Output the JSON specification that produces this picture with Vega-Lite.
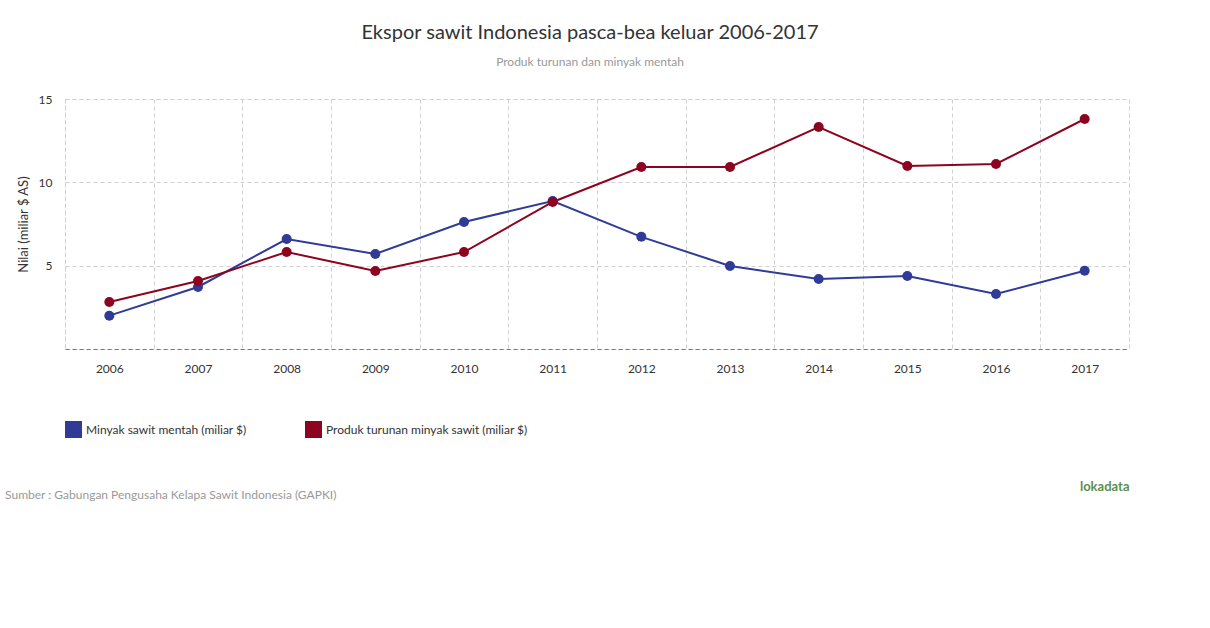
{
  "$schema": "https://vega.github.io/schema/vega-lite/v6.json",
  "background": "white",
  "padding": {"left": 4, "top": 22, "right": 5, "bottom": 5},
  "config": {
    "font": "Lato",
    "view": {"stroke": "#d0d0d0", "strokeDash": [4, 3], "strokeWidth": 1}
  },
  "title": {
    "text": "Ekspor sawit Indonesia pasca-bea keluar 2006-2017",
    "subtitle": "Produk turunan dan minyak mentah",
    "font": "Lato",
    "fontSize": 20,
    "fontWeight": "normal",
    "color": "#333333",
    "subtitleFont": "Lato",
    "subtitleFontSize": 12,
    "subtitleColor": "#999999",
    "subtitlePadding": 14,
    "anchor": "middle",
    "offset": 25,
    "dx": 23
  },
  "vconcat": [
    {
      "width": 1064,
      "height": 250,
      "title": {
        "text": "Sumber : Gabungan Pengusaha Kelapa Sawit Indonesia (GAPKI)",
        "orient": "bottom",
        "anchor": "start",
        "frame": "bounds",
        "font": "Lato",
        "fontSize": 12,
        "fontWeight": "normal",
        "color": "#999999",
        "offset": -3,
        "dx": -12
      },
      "data": {
        "values": [
          {"tahun": "2006", "seri": "Minyak sawit mentah (miliar $)", "nilai": 2.0},
          {"tahun": "2007", "seri": "Minyak sawit mentah (miliar $)", "nilai": 3.72},
          {"tahun": "2008", "seri": "Minyak sawit mentah (miliar $)", "nilai": 6.6},
          {"tahun": "2009", "seri": "Minyak sawit mentah (miliar $)", "nilai": 5.7},
          {"tahun": "2010", "seri": "Minyak sawit mentah (miliar $)", "nilai": 7.62},
          {"tahun": "2011", "seri": "Minyak sawit mentah (miliar $)", "nilai": 8.88},
          {"tahun": "2012", "seri": "Minyak sawit mentah (miliar $)", "nilai": 6.73},
          {"tahun": "2013", "seri": "Minyak sawit mentah (miliar $)", "nilai": 4.98},
          {"tahun": "2014", "seri": "Minyak sawit mentah (miliar $)", "nilai": 4.2},
          {"tahun": "2015", "seri": "Minyak sawit mentah (miliar $)", "nilai": 4.38},
          {"tahun": "2016", "seri": "Minyak sawit mentah (miliar $)", "nilai": 3.3},
          {"tahun": "2017", "seri": "Minyak sawit mentah (miliar $)", "nilai": 4.69},
          {"tahun": "2006", "seri": "Produk turunan minyak sawit (miliar $)", "nilai": 2.82},
          {"tahun": "2007", "seri": "Produk turunan minyak sawit (miliar $)", "nilai": 4.08},
          {"tahun": "2008", "seri": "Produk turunan minyak sawit (miliar $)", "nilai": 5.82},
          {"tahun": "2009", "seri": "Produk turunan minyak sawit (miliar $)", "nilai": 4.68},
          {"tahun": "2010", "seri": "Produk turunan minyak sawit (miliar $)", "nilai": 5.82},
          {"tahun": "2011", "seri": "Produk turunan minyak sawit (miliar $)", "nilai": 8.82},
          {"tahun": "2012", "seri": "Produk turunan minyak sawit (miliar $)", "nilai": 10.92},
          {"tahun": "2013", "seri": "Produk turunan minyak sawit (miliar $)", "nilai": 10.92},
          {"tahun": "2014", "seri": "Produk turunan minyak sawit (miliar $)", "nilai": 13.32},
          {"tahun": "2015", "seri": "Produk turunan minyak sawit (miliar $)", "nilai": 10.98},
          {"tahun": "2016", "seri": "Produk turunan minyak sawit (miliar $)", "nilai": 11.1},
          {"tahun": "2017", "seri": "Produk turunan minyak sawit (miliar $)", "nilai": 13.8}
        ]
      },
      "encoding": {
        "x": {
          "field": "tahun",
          "type": "ordinal",
          "scale": {"type": "band", "paddingInner": 0, "paddingOuter": 0},
          "axis": {
            "title": "lokadata",
            "titleAnchor": "end",
            "titleFont": "Lato",
            "titleFontSize": 13,
            "titleFontWeight": "bold",
            "titleColor": "#5b8f4e",
            "titlePadding": 106,
            "labelAngle": 0,
            "labelFont": "Lato",
            "labelFontSize": 12,
            "labelColor": "#333333",
            "labelPadding": 14,
            "ticks": false,
            "tickBand": "extent",
            "grid": true,
            "gridColor": "#d0d0d0",
            "gridDash": [4, 3],
            "domain": true,
            "domainColor": "#777777",
            "domainDash": [4, 3],
            "domainWidth": 1
          }
        },
        "y": {
          "field": "nilai",
          "type": "quantitative",
          "scale": {"domain": [0, 15], "nice": false},
          "axis": {
            "title": "Nilai (miliar $ AS)",
            "titleFont": "Lato",
            "titleFontSize": 13,
            "titleFontWeight": "normal",
            "titleColor": "#333333",
            "titlePadding": 8,
            "values": [5, 10, 15],
            "labelFont": "Lato",
            "labelFontSize": 12,
            "labelColor": "#333333",
            "labelPadding": 13,
            "ticks": false,
            "domain": false,
            "grid": true,
            "gridColor": "#d0d0d0",
            "gridDash": [4, 3]
          }
        },
        "color": {
          "field": "seri",
          "type": "nominal",
          "scale": {
            "domain": ["Minyak sawit mentah (miliar $)", "Produk turunan minyak sawit (miliar $)"],
            "range": ["#2f3b96", "#8c0420"]
          },
          "legend": {
            "title": null,
            "orient": "none",
            "legendX": 0,
            "legendY": 322,
            "direction": "horizontal",
            "symbolType": "square",
            "symbolSize": 289,
            "symbolStrokeWidth": 0,
            "symbolOpacity": 1,
            "labelFont": "Lato",
            "labelFontSize": 12,
            "labelColor": "#333333",
            "labelOffset": 4,
            "labelLimit": 400,
            "columnPadding": 58,
            "padding": 0
          }
        }
      },
      "layer": [
        {"mark": {"type": "line", "strokeWidth": 2}},
        {"mark": {"type": "point", "filled": true, "size": 100, "opacity": 1}}
      ]
    }
  ]
}
